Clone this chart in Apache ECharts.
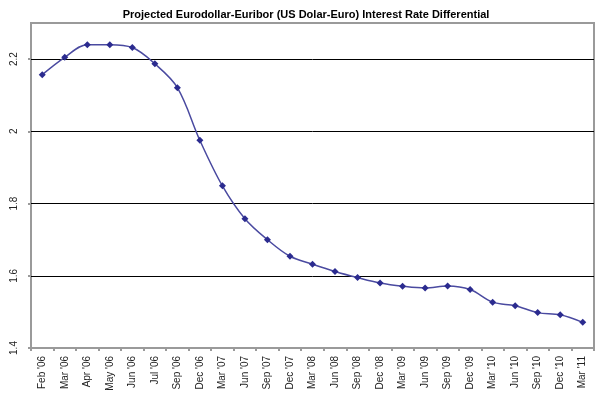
<!DOCTYPE html>
<html>
<head>
<meta charset="utf-8">
<script src="https://cdn.jsdelivr.net/npm/echarts@6/dist/echarts.min.js"></script>
<style>
  html, body { margin: 0; padding: 0; background: #fff; }
  #chart { width: 598px; height: 399px; }
</style>
</head>
<body>
<div id="chart"></div>
<script>
const months = ["Feb '06", "Mar '06", "Apr '06", "May '06", "Jun '06", "Jul '06", "Sep '06", "Dec '06",
  "Mar '07", "Jun '07", "Sep '07", "Dec '07", "Mar '08", "Jun '08", "Sep '08", "Dec '08",
  "Mar '09", "Jun '09", "Sep '09", "Dec '09", "Mar '10", "Jun '10", "Sep '10", "Dec '10", "Mar '11"];
const differential = [2.157, 2.205, 2.240, 2.240, 2.232, 2.187, 2.121, 1.975,
  1.849, 1.758, 1.700, 1.654, 1.632, 1.612, 1.595, 1.580,
  1.571, 1.566, 1.572, 1.562, 1.527, 1.517, 1.498, 1.492, 1.471];
const yTicks = { min: 1.4, max: 2.3, step: 0.2 };

const chart = echarts.init(document.getElementById("chart"));
const font = "'Liberation Sans', Arial, sans-serif";

chart.setOption({
  animation: false,
  title: {
    text: "Projected Eurodollar-Euribor (US Dolar-Euro) Interest Rate Differential",
    left: 301,
    textAlign: "center",
    top: 4,
    textStyle: { fontFamily: font, fontSize: 11, fontWeight: "bold", color: "#000" }
  },
  grid: {
    left: 31, right: 4, top: 23, bottom: 51,
    show: true,
    borderColor: "#9a9a9a",
    borderWidth: 2,
    backgroundColor: "#fff"
  },
  xAxis: {
    type: "category",
    data: months,
    boundaryGap: true,
    axisLine: { show: false },
    axisTick: { show: true, length: 3, lineStyle: { color: "#9a9a9a", width: 2 } },
    axisLabel: {
      rotate: 90, interval: 0, margin: 8,
      fontFamily: font, fontSize: 10, color: "#222"
    },
    splitLine: { show: false }
  },
  yAxis: {
    type: "value",
    min: yTicks.min,
    max: yTicks.max,
    interval: yTicks.step,
    axisLine: { show: false },
    axisTick: { show: true, length: 3, lineStyle: { color: "#9a9a9a", width: 2 } },
    axisLabel: {
      rotate: 90, margin: 12, showMaxLabel: false,
      fontFamily: font, fontSize: 10, color: "#222",
      formatter: v => String(Math.round(v * 10) / 10)
    },
    splitLine: { show: true, showMinLine: false, showMaxLine: false, lineStyle: { color: "#000", width: 1 } }
  },
  series: [{
    type: "line",
    data: differential,
    smooth: 0.35,
    symbol: "diamond",
    symbolSize: 7,
    lineStyle: { color: "#4a4aa0", width: 1.5 },
    itemStyle: { color: "#2b2b8f" }
  }]
});

window.addEventListener("resize", () => chart.resize(), { passive: true });
</script>
</body>
</html>
